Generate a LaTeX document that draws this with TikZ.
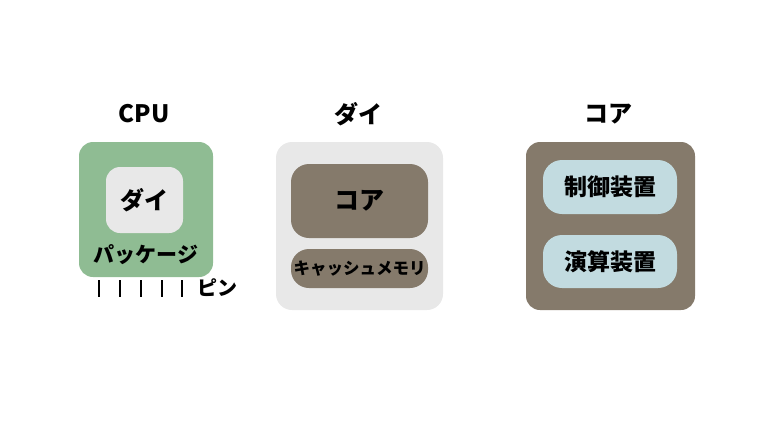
\documentclass[tikz,border=0pt]{standalone}
\usepackage{fontspec}
\setmainfont{Noto Sans CJK JP}
\definecolor{pkggreen}{HTML}{8FBC93}
\definecolor{diegray}{HTML}{E8E8E8}
\definecolor{corebrown}{HTML}{857A6B}
\definecolor{unitblue}{HTML}{C2DBE0}
\tikzset{
  box/.style={rounded corners=#1, inner sep=0pt},
  box/.default=14pt,
  title/.style={font=\fontsize{24}{24}\selectfont\bfseries},
  lbl/.style={font=\fontsize{#1}{#1}\selectfont\bfseries, inner sep=0pt},
  lbl/.default=22
}

\begin{document}
\begin{tikzpicture}[x=1pt, y=-1pt]
    \useasboundingbox (0,0) rectangle (768,432);

    % CPU
    \node [title] (cputitle) at (144, 114) {CPU};
    \node [box, fill=pkggreen, minimum width=134pt, minimum height=135pt] (package) at (146, 209.5) {};
    \node [box, fill=diegray, minimum width=77pt, minimum height=66pt] (die) at (144.5, 200) {};
    \node [lbl=24] at (die) {ダイ};
    \node [lbl=21] (pkglabel) at (146, 255) {パッケージ};
    \foreach \x in {99, 120, 141, 162, 182}
      \draw [line width=2.8pt] (\x, 280) -- (\x, 297);
    \node [lbl=20] (pin) at (217, 288) {ピン};

    % die
    \node [title] (dietitle) at (358, 114) {ダイ};
    \node [box=16pt, fill=diegray, minimum width=167pt, minimum height=168pt] (dieouter) at (359.5, 226) {};
    \node [box=18pt, fill=corebrown, minimum width=137pt, minimum height=74pt] (core) at (359.5, 201) {};
    \node [lbl=25] at (core) {コア};
    \node [box=18pt, fill=corebrown, minimum width=137pt, minimum height=39pt] (cache) at (359.5, 268.5) {};
    \node [lbl=16.5] at (cache) {キャッシュメモリ};

    % core
    \node [title] (coretitle) at (608, 114) {コア};
    \node [box, fill=corebrown, minimum width=169pt, minimum height=168pt] (coreouter) at (610.5, 226) {};
    \node [box=19pt, fill=unitblue, minimum width=134pt, minimum height=54pt] (control) at (610, 187) {};
    \node [lbl=23] at (control) {制御装置};
    \node [box=19pt, fill=unitblue, minimum width=134pt, minimum height=53pt] (alu) at (610, 261.5) {};
    \node [lbl=23] at (alu) {演算装置};
\end{tikzpicture}
\end{document}
